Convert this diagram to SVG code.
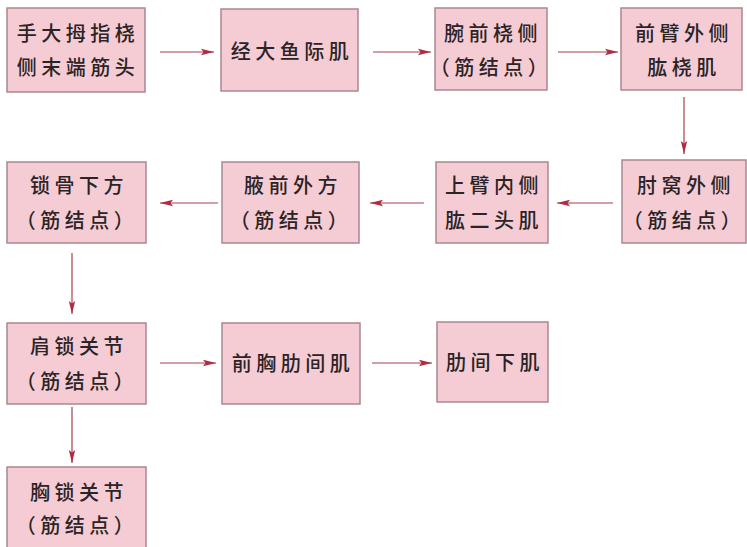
<svg xmlns="http://www.w3.org/2000/svg" width="747" height="547" viewBox="0 0 747 547">
<defs>
<marker id="ah" markerWidth="14" markerHeight="8" refX="13" refY="4" orient="auto" markerUnits="userSpaceOnUse">
<path d="M0,0.8 L13,4 L0,7.2 L2.5,4 Z" fill="#b02c42"/>
</marker>
</defs>
<style>
.box{fill:#f6ccd4;stroke:#a98890;stroke-width:1.5}
.t{font-family:"Noto Sans CJK SC","Noto Sans CJK TC",sans-serif;font-size:20px;font-weight:500;fill:#2a2426;text-anchor:middle;letter-spacing:4.5px}
.c{stroke:#a8404f;stroke-width:1.2;fill:none;marker-end:url(#ah)}
</style>
<rect width="747" height="547" fill="#ffffff"/>
<g id="connectors">
<line class="c" x1="160" y1="52" x2="214" y2="52"/>
<line class="c" x1="373" y1="52" x2="431" y2="52"/>
<line class="c" x1="558" y1="52" x2="618" y2="52"/>
<line class="c" x1="684" y1="97" x2="684" y2="154"/>
<line class="c" x1="613" y1="203" x2="557" y2="203"/>
<line class="c" x1="424" y1="203" x2="370" y2="203"/>
<line class="c" x1="218" y1="203" x2="160" y2="203"/>
<line class="c" x1="72" y1="253" x2="72" y2="314"/>
<line class="c" x1="160" y1="363" x2="216" y2="363"/>
<line class="c" x1="372" y1="363" x2="432" y2="363"/>
<line class="c" x1="72" y1="407" x2="72" y2="463"/>
</g>
<g id="n1"><rect class="box" x="7" y="8" width="138" height="84"/><text class="t" x="78" y="41">手大拇指桡</text><text class="t" x="78" y="75">侧末端筋头</text></g>
<g id="n2"><rect class="box" x="221" y="9" width="137" height="82"/><text class="t" x="292" y="59">经大鱼际肌</text></g>
<g id="n3"><rect class="box" x="435" y="8" width="112" height="82"/><text class="t" x="493" y="41">腕前桡侧</text><text class="t" x="491" y="75">（筋结点）</text></g>
<g id="n4"><rect class="box" x="621" y="8" width="121" height="82"/><text class="t" x="684" y="41">前臂外侧</text><text class="t" x="684" y="75">肱桡肌</text></g>
<g id="n5"><rect class="box" x="7" y="162" width="139" height="81"/><text class="t" x="79" y="193">锁骨下方</text><text class="t" x="77" y="228">（筋结点）</text></g>
<g id="n6"><rect class="box" x="222" y="162" width="137" height="81"/><text class="t" x="293" y="193">腋前外方</text><text class="t" x="291" y="228">（筋结点）</text></g>
<g id="n7"><rect class="box" x="436" y="162" width="112" height="81"/><text class="t" x="494" y="193">上臂内侧</text><text class="t" x="494" y="228">肱二头肌</text></g>
<g id="n8"><rect class="box" x="622" y="160" width="124" height="83"/><text class="t" x="686" y="193">肘窝外侧</text><text class="t" x="684" y="228">（筋结点）</text></g>
<g id="n9"><rect class="box" x="7" y="323" width="139" height="81"/><text class="t" x="79" y="354">肩锁关节</text><text class="t" x="77" y="389">（筋结点）</text></g>
<g id="n10"><rect class="box" x="222" y="323" width="138" height="81"/><text class="t" x="293" y="371">前胸肋间肌</text></g>
<g id="n11"><rect class="box" x="437" y="322" width="111" height="80"/><text class="t" x="495" y="370">肋间下肌</text></g>
<g id="n12"><rect class="box" x="7" y="467" width="139" height="84"/><text class="t" x="79" y="500">胸锁关节</text><text class="t" x="77" y="533">（筋结点）</text></g>
</svg>
